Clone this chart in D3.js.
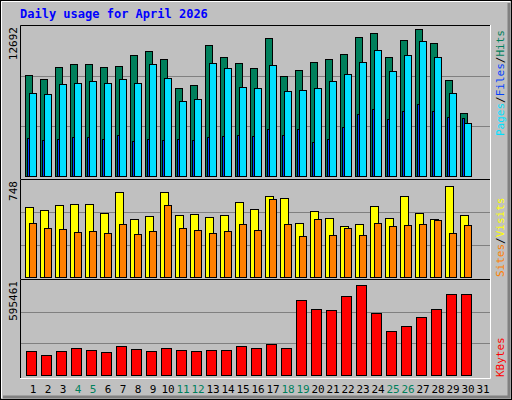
<!DOCTYPE html>
<html><head><meta charset="utf-8">
<script src="https://cdn.jsdelivr.net/npm/d3@7"></script>
<style>body{margin:0;background:#fff}svg{display:block}</style></head>
<body><script>
const days = d3.range(1, 32);
const weekend = [4,5,11,12,18,19,25,26];
const hits = [8545,8206,9221,9475,9475,9221,9306,10237,10575,9898,7445,7699,11083,10067,9560,9137,11675,8460,8968,9644,9898,10321,11759,12098,10067,11506,12436,11252,8122,5330];
const files = [7022,6937,7783,7868,8037,7868,8206,7868,9475,8291,6345,6514,9560,9137,7529,7445,9391,7191,7276,7445,8037,8629,9644,10660,8883,10237,11421,10067,7022,4484];
const pages = [3215,3046,3130,3299,3299,3130,3469,2961,3130,3046,3130,3046,3299,3384,3469,3384,3976,3469,3976,2876,3130,4145,5245,5668,4822,5499,6091,5499,4991,4907];
const visits = [539,516,554,562,562,493,654,448,470,654,478,486,463,478,577,524,623,608,417,509,455,394,409,547,455,623,493,448,699,478];
const sites = [417,379,371,348,356,341,409,333,356,554,379,364,341,356,409,364,600,409,318,448,326,379,326,417,394,402,409,440,341,402];
const kbytes = [148867,124056,148867,167476,155070,142664,179881,161273,148867,167476,155070,148867,155070,155070,179881,167476,192287,167476,471413,415588,409385,496224,564455,390776,272923,310140,365965,415588,508630,508630];
const maxHits = 12692, maxVisits = 748, maxKB = 595461;

const W = 512, H = 400;
const svg = d3.select("body").append("svg").attr("width", W).attr("height", H);
const font = "'DejaVu Sans Mono', monospace";
svg.append("rect").attr("width", W).attr("height", H).attr("fill", "#c0c0c0");
svg.append("rect").attr("x", 0.5).attr("y", 0.5).attr("width", W-1).attr("height", H-1).attr("fill", "none").attr("stroke", "#000");
svg.append("path").attr("d", `M1.5,${H-2}V1.5H${W-2}`).attr("stroke", "#fff").attr("fill", "none");
svg.append("path").attr("d", `M${W-3},3V${H-3}H3`).attr("stroke", "#808080").attr("stroke-width", 3).attr("fill", "none");

svg.append("text").attr("x", 20).attr("y", 18).text("Daily usage for April 2026")
  .attr("font-family", font).attr("font-weight", "bold").attr("font-size", 12).attr("fill", "#0000ff");

const x = d3.scaleLinear().domain([1, 2]).range([25, 40]);
const L = 20, R = 490;

function panel(y0, y1, zero, max, label) {
  svg.append("path").attr("d", `M${L+0.5},${y1}V${y0+0.5}H${R}`).attr("stroke", "#000").attr("fill", "none");
  svg.append("path").attr("d", `M${R+0.5},${y0}V${y1+0.5}H${L}`).attr("stroke", "#fff").attr("fill", "none");
  const y = d3.scaleLinear().domain([0, max]).range([zero, y0 + 1]);
  [1/3, 2/3].forEach(f => svg.append("line").attr("x1", L+1).attr("x2", R)
    .attr("y1", Math.round(y(max*f))+0.5).attr("y2", Math.round(y(max*f))+0.5).attr("stroke", "#808080"));
  svg.append("text").attr("transform", `translate(17,${y0+2}) rotate(-90)`).attr("text-anchor", "end")
    .attr("font-family", font).attr("font-size", 11).attr("fill", "#000").text(label);
  return y;
}
function bars(data, y, off, w, color) {
  svg.append("g").selectAll("rect").data(data).join("rect")
    .attr("x", (d, i) => x(i+1) + off + 0.5).attr("width", w)
    .attr("y", d => Math.round(y(d)) + 0.5).attr("height", d => y(0) - Math.round(y(d)))
    .attr("fill", color).attr("stroke", "#000");
}
const y1 = panel(25, 179, 176, maxHits, String(maxHits));
bars(hits, y1, 0, 7, "#00805c");
bars(pages, y1, 2, 2, "#0040ff");
bars(files, y1, 4, 7, "#00e0ff");
const y2 = panel(179, 279, 277, maxVisits, String(maxVisits));
bars(visits, y2, 0, 8, "#ffff00");
bars(sites, y2, 4, 7, "#ff8000");
const y3 = panel(279, 378, 375, maxKB, String(maxKB));
bars(kbytes, y3, 1, 10, "#ff0000");

svg.append("g").selectAll("text").data(days).join("text")
  .attr("x", d => x(d) + 8).attr("y", 393).attr("text-anchor", "middle")
  .attr("font-family", font).attr("font-size", 11)
  .attr("fill", d => weekend.includes(d) ? "#00805c" : "#000").text(d => d);

function rlabel(yBottom, parts) {
  const t = svg.append("text").attr("transform", `translate(504,${yBottom}) rotate(-90)`)
    .attr("font-family", font).attr("font-size", 11);
  parts.forEach(p => t.append("tspan").attr("fill", p[1]).text(p[0]));
}
rlabel(136, [["Pages","#00e0ff"],["/","#000"],["Files","#0040ff"],["/","#000"],["Hits","#00805c"]]);
rlabel(277, [["Sites","#ff8000"],["/","#000"],["Visits","#ffff00"]]);
rlabel(377, [["KBytes","#ff0000"]]);
</script></body></html>
